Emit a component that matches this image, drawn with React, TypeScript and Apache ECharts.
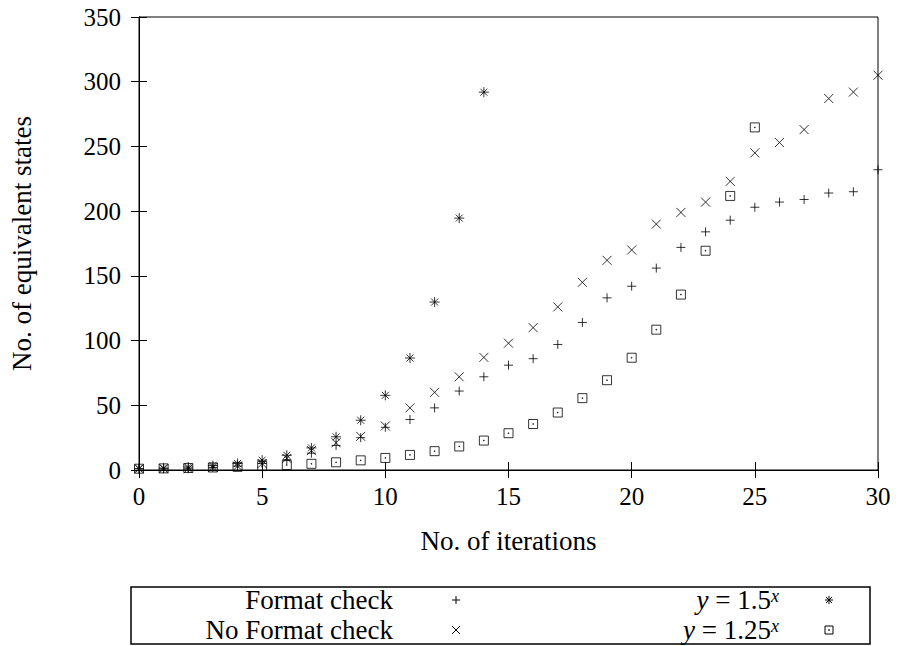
import { useEffect, useRef } from "react";
import * as echarts from "echarts";

const iterations = [0, 1, 2, 3, 4, 5, 6, 7, 8, 9, 10, 11, 12, 13, 14, 15, 16, 17, 18, 19, 20, 21, 22, 23, 24, 25, 26, 27, 28, 29, 30];
const formatCheck = [1, 1, 1, 2, 3, 5, 8, 13, 19, 25, 33, 39, 48, 61, 72, 81, 86, 97, 114, 133, 142, 156, 172, 184, 193, 203, 207, 209, 214, 215, 232];
const noFormatCheck = [1, 1, 1, 2, 3, 5, 9, 15, 21, 26, 34, 48, 60, 72, 87, 98, 110, 126, 145, 162, 170, 190, 199, 207, 223, 245, 253, 263, 287, 292, 305];
const pow15 = [1, 1.5, 2.25, 3.38, 5.06, 7.59, 11.39, 17.09, 25.63, 38.44, 57.67, 86.5, 129.75, 194.62, 291.93];
const pow125 = [1, 1.25, 1.56, 1.95, 2.44, 3.05, 3.81, 4.77, 5.96, 7.45, 9.31, 11.64, 14.55, 18.19, 22.74, 28.42, 35.53, 44.41, 55.51, 69.39, 86.74, 108.42, 135.53, 169.41, 211.76, 264.7];

const xTicks = { min: 0, max: 30, interval: 5 };
const yTicks = { min: 0, max: 350, interval: 50 };

const seriesNames = ["Format check", "No Format check", "y = 1.5^x", "y = 1.25^x"];

const FONT = "'Liberation Serif', 'DejaVu Serif', serif";

const PLUS = "path://M0,5L10,5M5,0L5,10";
const CROSS = "path://M0,0L10,10M0,10L10,0";
const STAR = "path://M0,5L10,5M5,0L5,10M1.5,1.5L8.5,8.5M1.5,8.5L8.5,1.5";
const BOX = "path://M0,0L10,0L10,10L0,10ZM4.6,4.6L5.4,4.6L5.4,5.4L4.6,5.4Z";

function pairs(vals: number[]) {
  return vals.map((v, i) => [iterations[i], v]);
}

function scatter(name: string, vals: number[], symbol: string, size: number) {
  return {
    name,
    type: "scatter",
    data: pairs(vals),
    symbol,
    symbolSize: size,
    clip: false,
    silent: true,
    itemStyle: { color: "rgba(0,0,0,0)", borderColor: "#000", borderWidth: 1 },
    emphasis: { disabled: true },
  };
}

const ink = "#000";

function lineEl(x1: number, y1: number, x2: number, y2: number) {
  return { type: "line", shape: { x1, y1, x2, y2 }, style: { stroke: ink, lineWidth: 1 }, silent: true };
}

export default function App() {
  const ref = useRef<HTMLDivElement>(null);
  useEffect(() => {
    if (!ref.current) return;
    const chart = echarts.init(ref.current, null, { renderer: "svg" });
    const axisCommon = {
      type: "value",
      splitLine: { show: false },
      axisLine: { show: true, lineStyle: { color: ink, width: 1 } },
      axisTick: { show: true, inside: true, length: 8, lineStyle: { color: ink, width: 1 } },
    };
    const labelStyle = { fontFamily: FONT, fontSize: 25, color: ink };
    const nameStyle = { fontFamily: FONT, fontSize: 27, color: ink };
    const lx = 393;
    const rx = 779;
    const r1 = 600;
    const r2 = 630;
    const s1 = 456;
    const s2 = 829;
    const h = 4;
    const rich = {
      i: { fontStyle: "italic", fontSize: 27, fontFamily: FONT, fill: ink },
      s: { fontStyle: "italic", fontSize: 18, fontFamily: FONT, fill: ink, verticalAlign: "top" },
    };
    chart.setOption({
      animation: false,
      backgroundColor: "#fff",
      grid: { left: 139, right: 22, top: 17, bottom: 176, show: true, borderColor: ink, borderWidth: 1, containLabel: false },
      xAxis: [
        {
          ...axisCommon,
          ...xTicks,
          position: "bottom",
          axisLabel: { ...labelStyle, margin: 14 },
          name: "No. of iterations",
          nameLocation: "middle",
          nameGap: 57,
          nameTextStyle: nameStyle,
        },
        { ...axisCommon, ...xTicks, position: "top", axisLabel: { show: false } },
      ],
      yAxis: [
        {
          ...axisCommon,
          ...yTicks,
          position: "left",
          axisLabel: { ...labelStyle, margin: 18 },
          name: "No. of equivalent states",
          nameLocation: "middle",
          nameRotate: 90,
          nameGap: 104,
          nameTextStyle: nameStyle,
        },
        { ...axisCommon, ...yTicks, position: "right", axisLabel: { show: false } },
      ],
      series: [
        scatter(seriesNames[0], formatCheck, PLUS, 9),
        scatter(seriesNames[1], noFormatCheck, CROSS, 9),
        scatter(seriesNames[2], pow15, STAR, 10),
        scatter(seriesNames[3], pow125, BOX, 9),
      ],
      graphic: [
        { type: "rect", shape: { x: 131, y: 587, width: 739, height: 57 }, style: { fill: "none", stroke: ink, lineWidth: 1.5 }, silent: true },
        { type: "text", x: lx, y: r1, style: { text: seriesNames[0], align: "right", verticalAlign: "middle", fontFamily: FONT, fontSize: 27, fill: ink }, silent: true },
        { type: "text", x: lx, y: r2, style: { text: seriesNames[1], align: "right", verticalAlign: "middle", fontFamily: FONT, fontSize: 27, fill: ink }, silent: true },
        { type: "text", x: rx, y: r1, style: { text: "{i|y} = 1.5{s|x}", align: "right", verticalAlign: "middle", fontFamily: FONT, fontSize: 27, fill: ink, rich }, silent: true },
        { type: "text", x: rx, y: r2, style: { text: "{i|y} = 1.25{s|x}", align: "right", verticalAlign: "middle", fontFamily: FONT, fontSize: 27, fill: ink, rich }, silent: true },
        lineEl(s1 - h, r1, s1 + h, r1),
        lineEl(s1, r1 - h, s1, r1 + h),
        lineEl(s1 - h, r2 - h, s1 + h, r2 + h),
        lineEl(s1 - h, r2 + h, s1 + h, r2 - h),
        lineEl(s2 - h, r1, s2 + h, r1),
        lineEl(s2, r1 - h, s2, r1 + h),
        lineEl(s2 - 3, r1 - 3, s2 + 3, r1 + 3),
        lineEl(s2 - 3, r1 + 3, s2 + 3, r1 - 3),
        { type: "rect", shape: { x: s2 - h, y: r2 - h, width: 2 * h, height: 2 * h }, style: { fill: "none", stroke: ink, lineWidth: 1 }, silent: true },
        { type: "rect", shape: { x: s2 - 0.5, y: r2 - 0.5, width: 1, height: 1 }, style: { fill: ink, stroke: ink, lineWidth: 0.5 }, silent: true },
      ],
    });
    return () => chart.dispose();
  }, []);
  return <div ref={ref} style={{ position: "fixed", left: 0, top: 0, width: 900, height: 646, background: "#fff" }} />;
}
